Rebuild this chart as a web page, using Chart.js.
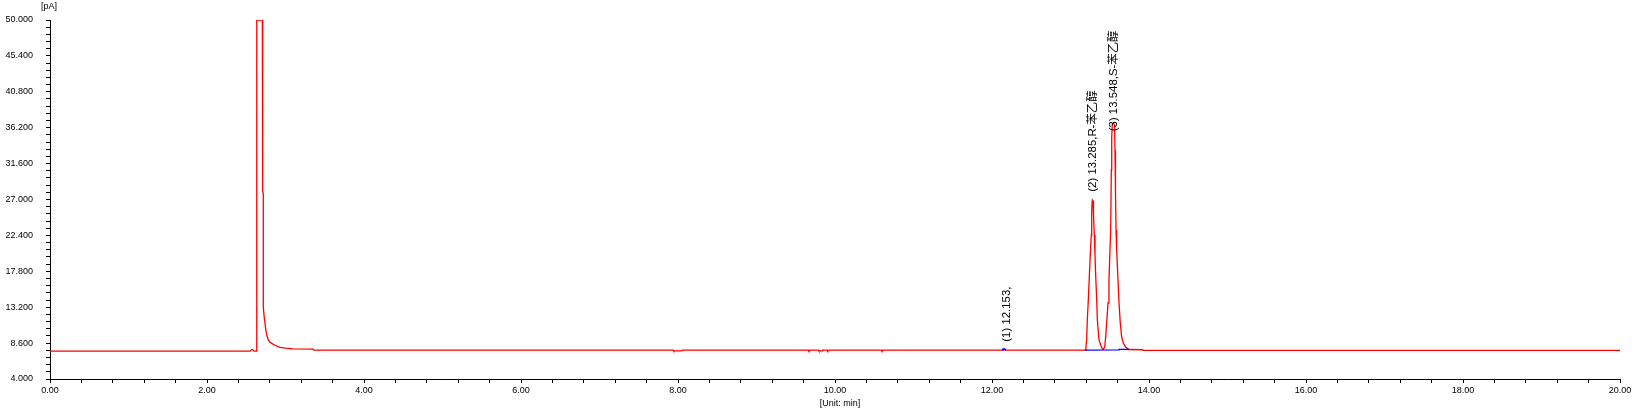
<!DOCTYPE html>
<html>
<head>
<meta charset="utf-8">
<script src="https://cdn.jsdelivr.net/npm/chart.js@4.4.0/dist/chart.umd.min.js"></script>
<style>
  html, body { margin: 0; padding: 0; background: #fff; }
  #c { display: block; }
</style>
</head>
<body>
<canvas id="c" width="1636" height="414"></canvas>
<script>
// ---- Data ----
// Signal trace (red): retention time [min] and signal [pA]
const signalTimes = [
  0, 2.55, 2.565, 2.578, 2.59, 2.60, 2.632, 2.634, 2.705, 2.705, 2.712, 2.712, 2.717, 2.717,
  2.728, 2.739, 2.752, 2.765, 2.781, 2.800, 2.824, 2.866, 2.930, 3.000, 3.092, 3.350, 3.360,
  7.94, 7.945, 8.05, 8.055,
  9.66, 9.665, 9.675, 9.68, 9.79, 9.795, 9.84, 9.845, 9.90, 9.905, 9.92, 9.925,
  10.59, 10.595, 10.605, 10.61,
  12.13, 12.153, 12.175,
  13.185, 13.197, 13.206, 13.214, 13.227, 13.240, 13.252, 13.265, 13.270, 13.278, 13.287,
  13.293, 13.303, 13.312, 13.321, 13.334, 13.342, 13.363, 13.389, 13.405, 13.418,
  13.436, 13.448, 13.461, 13.478, 13.490, 13.503, 13.512, 13.520, 13.525, 13.533, 13.548,
  13.561, 13.567, 13.573, 13.580, 13.588, 13.605, 13.618, 13.634, 13.652, 13.673, 13.703,
  13.736, 13.745, 13.920, 13.925, 20
];
const signalValues = [
  7.57, 7.57, 7.72, 7.78, 7.70, 7.57, 7.57, 50, 50, 29.5, 29.4, 28.0, 27.8, 13.26,
  12.0, 11.13, 10.06, 9.5, 9.0, 8.75, 8.57, 8.32, 8.06, 7.95, 7.86, 7.84, 7.70,
  7.70, 7.60, 7.60, 7.70,
  7.70, 7.60, 7.60, 7.70, 7.70, 7.60, 7.60, 7.70, 7.70, 7.60, 7.60, 7.70,
  7.70, 7.60, 7.60, 7.70,
  7.70, 7.78, 7.70,
  7.70, 8.23, 9.0, 11.56, 14.12, 17.2, 19.9, 22.45, 25.65, 26.93, 26.8,
  25.0, 22.45, 19.9, 17.2, 14.12, 11.56, 9.0, 8.23, 7.91, 7.80,
  8.10, 9.38, 11.19, 13.74, 16.68, 20.53, 23.09, 30.78, 35.0, 36.7, 36.8,
  36.5, 33.3, 28.0, 23.09, 20.53, 16.68, 13.74, 11.19, 9.38, 8.61, 8.10,
  7.84, 7.78, 7.75, 7.68, 7.68
];
// Integration baselines / peak marks (blue)
const baseline1Times = [12.13, 12.14, 12.165, 12.175];
const baseline1Values = [7.66, 7.86, 7.86, 7.66];
const baseline2Times = [13.18, 13.62, 13.62, 13.745];
const baseline2Values = [7.70, 7.72, 7.80, 7.80];

// Peak annotations
const peakLabels = ['(1) 12.153,', '(2) 13.285,R-苯乙醇', '(3) 13.548,S-苯乙醇'];
const peakLabelTimes = [12.187, 13.29, 13.554];
const peakLabelValues = [8.78, 28.0, 35.75];

// Axes
const xMin = 0, xMax = 20, xMinorStep = 0.4;
const xTickLabels = ['0.00', '2.00', '4.00', '6.00', '8.00', '10.00', '12.00', '14.00', '16.00', '18.00', '20.00'];
const yMin = 4, yMax = 50, yMinorPerMajor = 5;
const yTickLabels = ['4.000', '8.600', '13.200', '17.800', '22.400', '27.000', '31.600', '36.200', '40.800', '45.400', '50.000'];
const yUnit = '[pA]';
const xUnit = '[Unit: min]';

const toPts = (ts, vs) => ts.map((t, i) => ({ x: t, y: vs[i] }));

const tickFont = { family: "'Liberation Sans', Arial, sans-serif", size: 9 };
const labelFont = "11.4px 'Liberation Sans', Arial, 'Noto Sans CJK SC', sans-serif";

const annotPlugin = {
  id: 'annot',
  afterDatasetsDraw(chart) {
    const { ctx, scales: { x, y }, chartArea } = chart;
    ctx.save();
    ctx.fillStyle = '#000';
    ctx.font = labelFont;
    ctx.textAlign = 'left';
    ctx.textBaseline = 'middle';
    peakLabels.forEach((txt, i) => {
      const px = x.getPixelForValue(peakLabelTimes[i]);
      const py = y.getPixelForValue(peakLabelValues[i]);
      ctx.save();
      ctx.translate(px, py);
      ctx.rotate(-Math.PI / 2);
      ctx.fillText(txt, 0, 0);
      ctx.restore();
    });
    ctx.font = "9px 'Liberation Sans', Arial, sans-serif";
    ctx.textAlign = 'center';
    ctx.fillText(yUnit, chartArea.left - 1, 7);
    ctx.fillText(xUnit, (chartArea.left + chartArea.right) / 2 + 5, 404);
    ctx.restore();
  }
};

new Chart(document.getElementById('c'), {
  type: 'scatter',
  data: {
    datasets: [
      { data: toPts(baseline1Times, baseline1Values), showLine: true, borderColor: '#0000ff', borderWidth: 1.3, pointRadius: 0, order: 0 },
      { data: toPts(baseline2Times, baseline2Values), showLine: true, borderColor: '#0000ff', borderWidth: 1.3, pointRadius: 0, order: 0 },
      { data: toPts(signalTimes, signalValues), showLine: true, borderColor: '#ff0000', borderWidth: 1.3, pointRadius: 0, order: 1 }
    ]
  },
  options: {
    responsive: false,
    animation: false,
    devicePixelRatio: 1,
    layout: { padding: { left: 0, right: 16, top: 20, bottom: 0 } },
    plugins: { legend: { display: false }, tooltip: { enabled: false } },
    scales: {
      x: {
        type: 'linear', min: xMin, max: xMax,
        afterFit: s => { s.height = 35; },
        afterBuildTicks: s => {
          const n = Math.round((xMax - xMin) / xMinorStep);
          s.ticks = Array.from({ length: n + 1 }, (_, i) => ({ value: xMin + i * xMinorStep }));
        },
        ticks: {
          autoSkip: false, maxRotation: 0, padding: 2, color: '#000', font: tickFont,
          callback: (v, i) => (i % 5 === 0 ? xTickLabels[i / 5] : '')
        },
        grid: { drawOnChartArea: false, drawTicks: true, tickLength: 4, color: '#000', lineWidth: 1 },
        border: { display: true, color: '#000', width: 1 }
      },
      y: {
        type: 'linear', min: yMin, max: yMax,
        afterFit: s => { s.width = 50; },
        afterBuildTicks: s => {
          const majorStep = (yMax - yMin) / (yTickLabels.length - 1);
          const n = (yTickLabels.length - 1) * yMinorPerMajor;
          s.ticks = Array.from({ length: n + 1 }, (_, i) => ({ value: yMin + i * majorStep / yMinorPerMajor }));
        },
        ticks: {
          autoSkip: false, padding: 13, color: '#000', font: tickFont,
          callback: (v, i) => (i % yMinorPerMajor === 0 ? yTickLabels[i / yMinorPerMajor] : '')
        },
        grid: { drawOnChartArea: false, drawTicks: true, tickLength: 4, color: '#000', lineWidth: 1 },
        border: { display: true, color: '#000', width: 1 }
      }
    }
  },
  plugins: [annotPlugin]
});
</script>
</body>
</html>
